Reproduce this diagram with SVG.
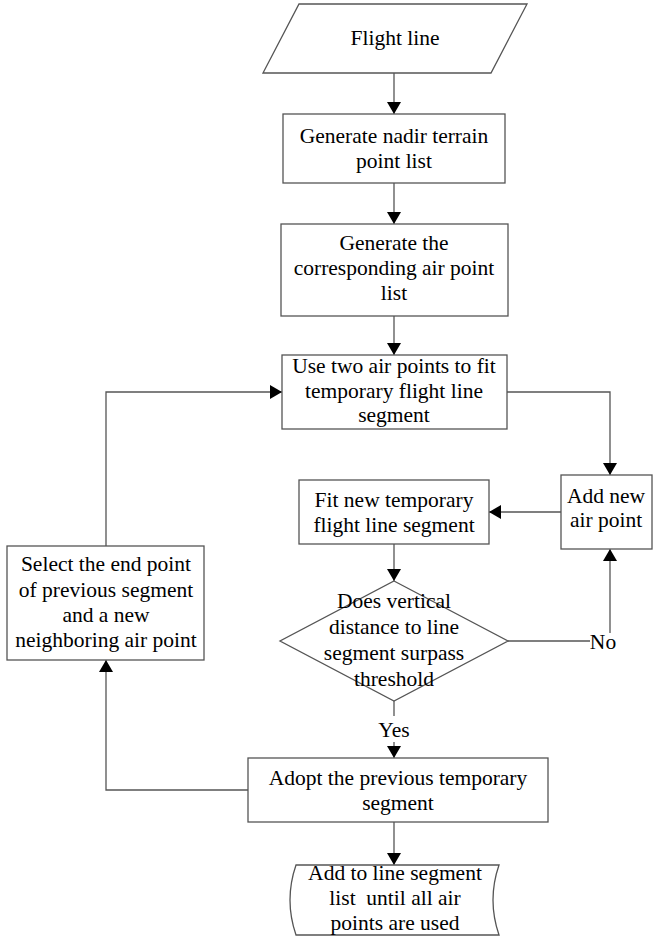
<svg xmlns="http://www.w3.org/2000/svg" width="655" height="939" viewBox="0 0 655 939">
<defs>
<marker id="arr" viewBox="0 0 12 14" refX="12" refY="7" markerWidth="12" markerHeight="14" markerUnits="userSpaceOnUse" orient="auto">
<path d="M0,0 L12,7 L0,14 Z" fill="#000"/>
</marker>
<style>
.shape{fill:#fff;stroke:#555;stroke-width:1.3}
.conn{fill:none;stroke:#555;stroke-width:1.3}
.arrow{marker-end:url(#arr)}
text{font-family:"Liberation Serif","Times New Roman",serif;font-size:21.5px;fill:#000;text-anchor:middle}
</style>
</defs>
<rect width="655" height="939" fill="#fff"/>
<g id="connectors">
<path class="conn arrow" d="M394,73 L394,114"/>
<path class="conn arrow" d="M394,183 L394,224"/>
<path class="conn arrow" d="M394,316 L394,355"/>
<path class="conn arrow" d="M507,392 L610,392 L610,475"/>
<path class="conn arrow" d="M561,512 L489,512"/>
<path class="conn arrow" d="M394,544 L394,581"/>
<path class="conn" d="M508,641 L590,641"/>
<path class="conn arrow" d="M610,633 L610,549"/>
<path class="conn" d="M394,701 L394,716"/>
<path class="conn arrow" d="M394,742 L394,758"/>
<path class="conn arrow" d="M248,790 L106,790 L106,660"/>
<path class="conn arrow" d="M106,546 L106,392 L282,392"/>
<path class="conn arrow" d="M394,822 L394,865"/>
<text x="603" y="649">No</text>
<text x="394" y="737">Yes</text>
</g>
<g id="flight-line">
<polygon class="shape" points="299,4 527,4 491,73 263,73"/>
<text x="395" y="45">Flight line</text>
</g>
<g id="generate-nadir">
<rect class="shape" x="283" y="114" width="222" height="69"/>
<text x="394" y="143">Generate nadir terrain</text>
<text x="394" y="168">point list</text>
</g>
<g id="generate-air">
<rect class="shape" x="281" y="224" width="227" height="92"/>
<text x="394" y="250">Generate the</text>
<text x="394" y="275">corresponding air point</text>
<text x="394" y="300">list</text>
</g>
<g id="use-two">
<rect class="shape" x="282" y="355" width="225" height="74"/>
<text x="394" y="373">Use two air points to fit</text>
<text x="394" y="398">temporary flight line</text>
<text x="394" y="422">segment</text>
</g>
<g id="add-new">
<rect class="shape" x="561" y="475" width="91" height="74"/>
<text x="606" y="503">Add new</text>
<text x="606" y="527">air point</text>
</g>
<g id="fit-new">
<rect class="shape" x="299" y="480" width="190" height="64"/>
<text x="394" y="507">Fit new temporary</text>
<text x="394" y="532">flight line segment</text>
</g>
<g id="decision">
<polygon class="shape" points="394,581 508,641 394,701 280,641"/>
<text x="394" y="608">Does vertical</text>
<text x="394" y="634">distance to line</text>
<text x="394" y="660">segment surpass</text>
<text x="394" y="686">threshold</text>
</g>
<g id="select-end">
<rect class="shape" x="7" y="546" width="197" height="114"/>
<text x="106" y="571">Select the end point</text>
<text x="106" y="597">of previous segment</text>
<text x="106" y="622">and a new</text>
<text x="106" y="647">neighboring air point</text>
</g>
<g id="adopt">
<rect class="shape" x="248" y="758" width="300" height="64"/>
<text x="398" y="785">Adopt the previous temporary</text>
<text x="398" y="810">segment</text>
</g>
<g id="add-list">
<path class="shape" d="M296,865 L499,865 Q487,900 499,935 L296,935 Q284,900 296,865 Z"/>
<text x="395" y="880">Add to line segment</text>
<text x="395" y="905" xml:space="preserve">list  until all air</text>
<text x="395" y="930">points are used</text>
</g>
</svg>
